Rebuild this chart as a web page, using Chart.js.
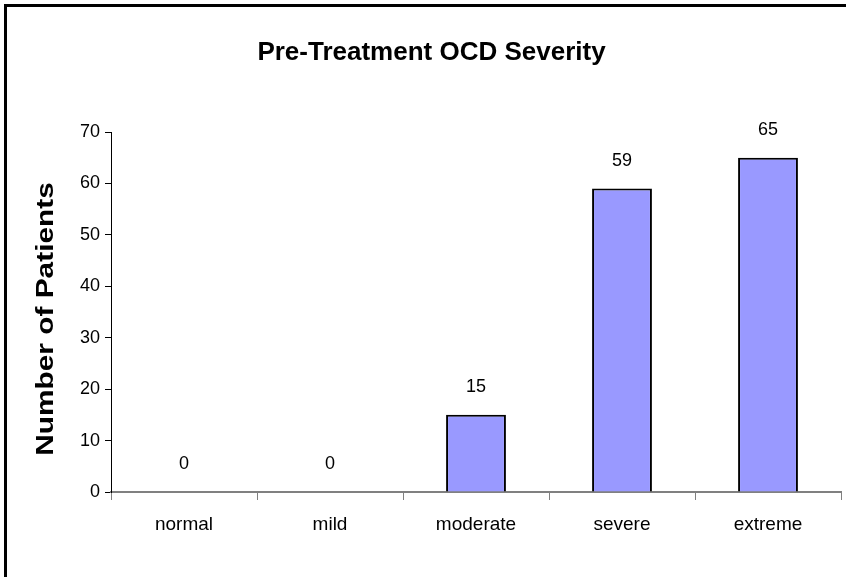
<!DOCTYPE html>
<html>
<head>
<meta charset="utf-8">
<script src="https://cdn.jsdelivr.net/npm/chart.js@4.4.1/dist/chart.umd.min.js"></script>
<style>
  html, body { margin: 0; padding: 0; background: #ffffff; }
  #wrap { width: 846px; height: 577px; position: relative; }
</style>
</head>
<body>
<div id="wrap"><canvas id="c" width="846" height="577"></canvas></div>
<script>
const categories = ["normal", "mild", "moderate", "severe", "extreme"];
const patientCounts = [0, 0, 15, 59, 65];
const yTickMin = 0;
const yTickMax = 70;
const yTickStep = 10;
const chartTitle = "Pre-Treatment OCD Severity";
const yAxisTitle = "Number of Patients";

const FONT = "'Liberation Sans', Arial, Helvetica, sans-serif";

const framePlugin = {
  id: 'frame',
  beforeDraw(chart) {
    const ctx = chart.ctx;
    ctx.save();
    ctx.fillStyle = '#ffffff';
    ctx.fillRect(0, 0, chart.width, chart.height);
    ctx.fillStyle = '#000000';
    ctx.fillRect(4, 4, chart.width - 4, 3);
    ctx.fillRect(4, 4, 3, chart.height - 4);
    ctx.restore();
  }
};

const yTitlePlugin = {
  id: 'yTitle',
  afterDraw(chart) {
    const ctx = chart.ctx;
    const area = chart.chartArea;
    ctx.save();
    ctx.translate(47, (area.top + area.bottom) / 2 + 7);
    ctx.rotate(-Math.PI / 2);
    ctx.scale(1.27, 1);
    ctx.font = "bold 23.5px " + FONT;
    ctx.fillStyle = '#000000';
    ctx.textAlign = 'center';
    ctx.textBaseline = 'middle';
    ctx.fillText(yAxisTitle, 0, 0);
    ctx.restore();
  }
};

const valueLabelPlugin = {
  id: 'valueLabels',
  afterDatasetsDraw(chart) {
    const ctx = chart.ctx;
    ctx.save();
    ctx.font = "18px " + FONT;
    ctx.fillStyle = '#000000';
    ctx.textAlign = 'center';
    ctx.textBaseline = 'middle';
    chart.data.datasets.forEach((ds, di) => {
      const meta = chart.getDatasetMeta(di);
      meta.data.forEach((bar, i) => {
        ctx.fillText(String(ds.data[i]), bar.x, bar.y - 28);
      });
    });
    ctx.restore();
  }
};

new Chart(document.getElementById('c'), {
  type: 'bar',
  data: {
    labels: categories,
    datasets: [{
      data: patientCounts,
      backgroundColor: '#9999FF',
      borderColor: '#000000',
      borderWidth: 2,
      borderSkipped: 'bottom',
      categoryPercentage: 1.0,
      barPercentage: 0.41
    }]
  },
  options: {
    responsive: false,
    animation: false,
    devicePixelRatio: 1,
    layout: { padding: { left: 22, right: 5, top: 0, bottom: 0 } },
    plugins: {
      legend: { display: false },
      tooltip: { enabled: false },
      title: {
        display: true,
        text: chartTitle,
        color: '#000000',
        font: { family: FONT, size: 26, weight: 'bold', lineHeight: 1.2 },
        padding: { top: 37, bottom: 63.8 }
      }
    },
    scales: {
      x: {
        offset: true,
        grid: {
          offset: true,
          drawOnChartArea: false,
          drawTicks: true,
          tickLength: 8,
          color: '#808080',
          lineWidth: 1
        },
        border: { display: true, color: '#808080', width: 2 },
        ticks: {
          color: '#000000',
          font: { family: FONT, size: 19 },
          padding: 13,
          maxRotation: 0
        },
        afterFit(scale) { scale.height = 85; }
      },
      y: {
        min: yTickMin,
        max: yTickMax,
        grid: {
          drawOnChartArea: false,
          drawTicks: true,
          tickLength: 6,
          color: '#000000',
          lineWidth: 1
        },
        border: { display: true, color: '#000000', width: 1 },
        ticks: {
          stepSize: yTickStep,
          color: '#000000',
          font: { family: FONT, size: 18 },
          padding: 5
        },
        afterFit(scale) { scale.width = 89; }
      }
    }
  },
  plugins: [framePlugin, valueLabelPlugin, yTitlePlugin]
});
</script>
</body>
</html>
